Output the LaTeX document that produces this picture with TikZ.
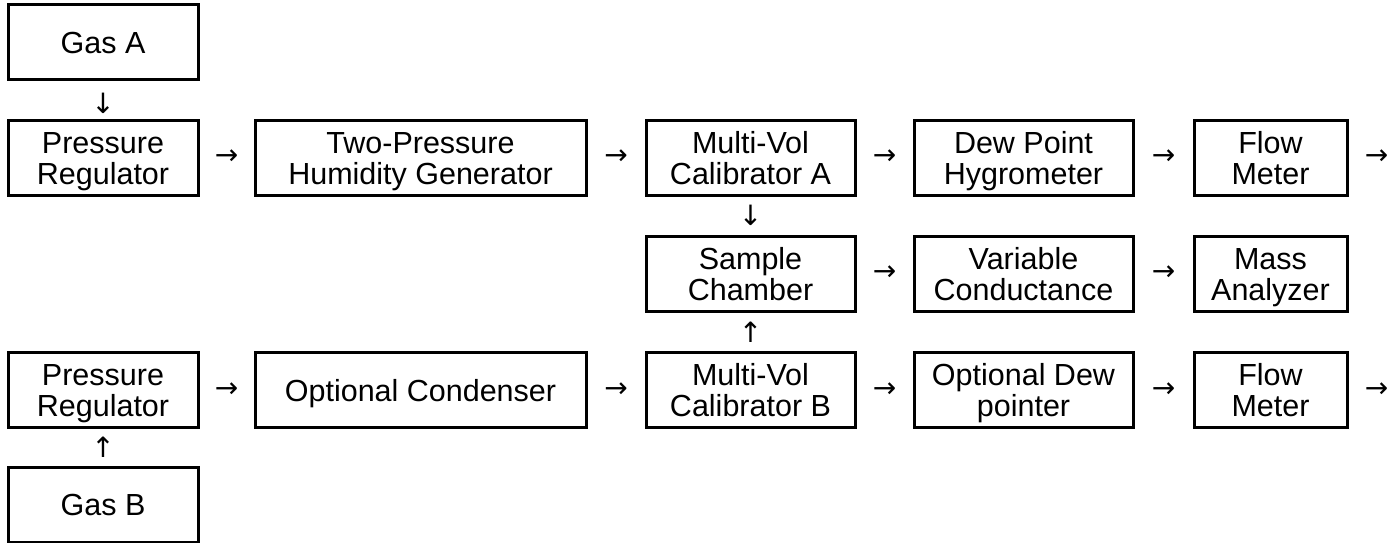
\documentclass[tikz,border=0pt]{standalone}
\usepackage{fontspec}
\setmainfont{Liberation Sans}
\newfontfamily\arrowfont{DejaVu Sans}
\usetikzlibrary{calc}
\newcommand\Ls{\rule[-7pt]{0pt}{36pt}}
\newcommand\tightlines{\lineskiplimit-100pt\relax\lineskip0pt\relax}
\tikzset{
  txt/.style={font={\fontsize{30.5}{31}\selectfont\tightlines}},
  box/.style={txt, draw, line width=3pt, align=center, inner sep=0pt, minimum height=75pt},
  c1/.style={box, minimum width=190pt},
  c2/.style={box, minimum width=331pt},
  c3/.style={box, minimum width=209pt},
  c4/.style={box, minimum width=219pt},
  c5/.style={box, minimum width=153pt},
  arr/.style={font={\arrowfont\fontsize{28}{28}\selectfont}, inner sep=0pt}
}
\begin{document}
\begin{tikzpicture}[x=1pt,y=-1pt]
\useasboundingbox (0,0) rectangle (1398,543);
% boxes
\node[c1] (gasA) at (103,42.5) {\Ls Gas A};
\node[c1] (pr1)  at (103,157.5) {\Ls Pressure\\\Ls Regulator};
\node[c2] (tph)  at (420.5,157.5) {\Ls Two-Pressure\\\Ls Humidity Generator};
\node[c3] (mva)  at (750.5,157.5) {\Ls Multi-Vol\\\Ls Calibrator A};
\node[c4] (dph)  at (1023.5,157.5) {\Ls Dew Point\\\Ls Hygrometer};
\node[c5] (fm1)  at (1270.5,157.5) {\Ls Flow\\\Ls Meter};
\node[c3] (sc)   at (750.5,273.5) {\Ls Sample\\\Ls Chamber};
\node[c4] (vc)   at (1023.5,273.5) {\Ls Variable\\\Ls Conductance};
\node[c5] (ma)   at (1270.5,273.5) {\Ls Mass\\\Ls Analyzer};
\node[c1] (pr2)  at (103,390) {\Ls Pressure\\\Ls Regulator};
\node[c2] (oc)   at (420.5,390) {\Ls Optional Condenser};
\node[c3] (mvb)  at (750.5,390) {\Ls Multi-Vol\\\Ls Calibrator B};
\node[c4] (odp)  at (1023.5,390) {\Ls Optional Dew\\\Ls pointer};
\node[c5] (fm2)  at (1270.5,390) {\Ls Flow\\\Ls Meter};
\node[c1] (gasB) at (103,504.5) {\Ls Gas B};
% arrows (text glyphs)
\node[arr] (a1) at ($(gasA.south)!0.5!(pr1.north)+(0,3)$) {↓};
\node[arr] (a2) at ($(pr1.east)!0.5!(tph.west)$) {→};
\node[arr] (a3) at ($(tph.east)!0.5!(mva.west)$) {→};
\node[arr] (a4) at ($(mva.east)!0.5!(dph.west)$) {→};
\node[arr] (a5) at ($(dph.east)!0.5!(fm1.west)$) {→};
\node[arr] (a6) at ($(fm1.east)+(28,0)$) {→};
\node[arr] (a7) at ($(mva.south)!0.5!(sc.north)$) {↓};
\node[arr] (a8) at ($(sc.east)!0.5!(vc.west)$) {→};
\node[arr] (a9) at ($(vc.east)!0.5!(ma.west)$) {→};
\node[arr] (a10) at ($(mvb.north)!0.5!(sc.south)$) {↑};
\node[arr] (a11) at ($(pr2.east)!0.5!(oc.west)$) {→};
\node[arr] (a12) at ($(oc.east)!0.5!(mvb.west)$) {→};
\node[arr] (a13) at ($(mvb.east)!0.5!(odp.west)$) {→};
\node[arr] (a14) at ($(odp.east)!0.5!(fm2.west)$) {→};
\node[arr] (a15) at ($(fm2.east)+(28,0)$) {→};
\node[arr] (a16) at ($(gasB.north)!0.5!(pr2.south)$) {↑};
\end{tikzpicture}
\end{document}
